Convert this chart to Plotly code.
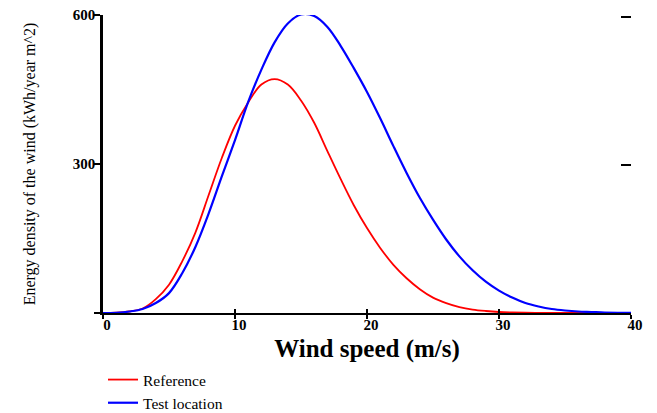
import plotly.graph_objects as go

wind_speed = list(range(0, 41))
reference = [0, 0.5, 3, 9, 28, 57, 104, 162, 237, 312, 377, 424, 460, 471, 460, 428,
             383, 326, 270, 217, 171, 131, 97, 70, 48, 31, 20, 12, 7, 4, 2, 1, 0.5,
             0.3, 0.1, 0, 0, 0, 0, 0, 0]
test_location = [0, 0.5, 3, 8, 20, 40, 80, 133, 200, 275, 348, 425, 490, 545, 583, 601,
                 598, 576, 538, 493, 445, 392, 336, 282, 232, 188, 148, 114, 86, 63, 45,
                 31, 20, 13, 8, 5, 3, 2, 1, 0.5, 0.3]

x_ticks = [0, 10, 20, 30, 40]
y_ticks = [0, 300, 600]
y_tick_text = ["", "300", "600"]
right_ticks = [300, 600]

serif = "Liberation Serif, Times New Roman, serif"

fig = go.Figure()
fig.add_trace(go.Scatter(x=wind_speed, y=reference, mode="lines", name="Reference",
                         line=dict(color="#ff0000", width=1.8, shape="spline")))
fig.add_trace(go.Scatter(x=wind_speed, y=test_location, mode="lines", name="Test location",
                         line=dict(color="#0000ff", width=2.2, shape="spline")))
# invisible trace to host the secondary axes (cross ticks / right ticks)
fig.add_trace(go.Scatter(x=[0, 40], y=[0, 600], mode="lines", xaxis="x2", yaxis="y2",
                         line=dict(width=0), showlegend=False, hoverinfo="skip"))

fig.update_layout(
    width=657, height=413,
    margin=dict(l=103, r=26, t=15, b=100, autoexpand=False),
    plot_bgcolor="white", paper_bgcolor="white",
    font=dict(family=serif, color="black"),
    xaxis=dict(range=[0, 40], tickvals=x_ticks, showgrid=False, zeroline=False,
               showline=True, linecolor="black", linewidth=2, automargin=False,
               ticks="outside", ticklen=4, tickwidth=1.5, tickcolor="black",
               ticklabelshift=4, ticklabelstandoff=-7,
               tickfont=dict(family=serif, size=15, weight="bold"),
               title=dict(text="Wind speed (m/s)", standoff=12,
                          font=dict(family=serif, size=25, weight="bold"))),
    yaxis=dict(range=[0, 600], tickvals=y_ticks, ticktext=y_tick_text, showgrid=False,
               zeroline=False, showline=True, linecolor="black", linewidth=2.5,
               automargin=False,
               ticks="outside", ticklen=6, tickwidth=1.5, tickcolor="black",
               ticklabelstandoff=-4,
               tickfont=dict(family=serif, size=15, weight="bold"),
               title=dict(text="Energy density of the wind (kWh/year m^2)", standoff=34,
                          font=dict(family=serif, size=16))),
    xaxis2=dict(range=[0, 40], overlaying="x", anchor="y", side="bottom",
                tickvals=x_ticks, showticklabels=False, ticks="inside", ticklen=4,
                tickwidth=1.5, tickcolor="black", showgrid=False, zeroline=False,
                showline=False, automargin=False),
    yaxis2=dict(range=[0, 604], overlaying="y", anchor="x", side="right",
                tickvals=right_ticks, showticklabels=False, ticks="inside", ticklen=10,
                tickwidth=1.5, tickcolor="black", showgrid=False, zeroline=False,
                showline=False, automargin=False),
    legend=dict(x=0, y=1 - 363 / 413, xref="paper", yref="container",
                xanchor="left", yanchor="top",
                font=dict(family=serif, size=15.5), tracegroupgap=0,
                bgcolor="rgba(0,0,0,0)"),
    showlegend=True,
)

fig.write_html("out.html")
